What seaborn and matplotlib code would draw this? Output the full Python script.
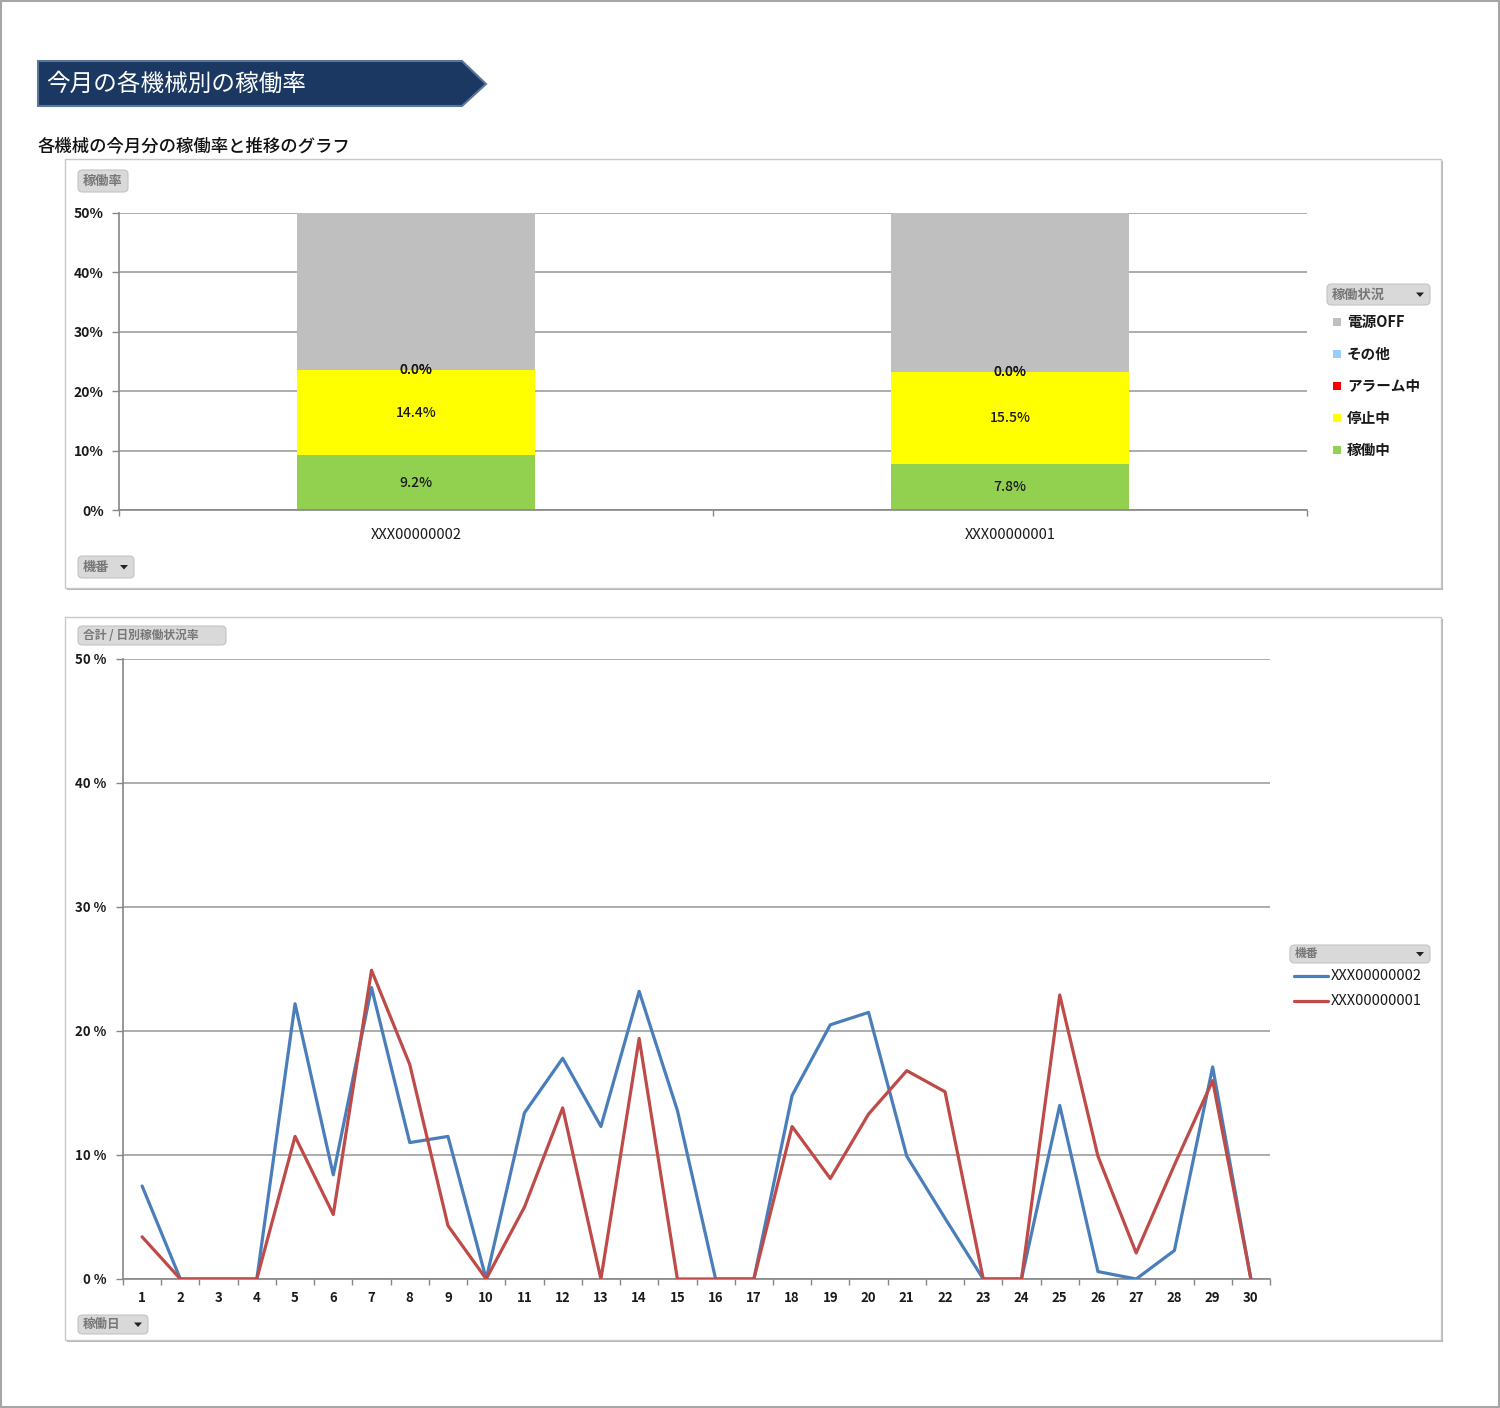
import numpy as np
import pandas as pd
import matplotlib
matplotlib.use("Agg")
import matplotlib.pyplot as plt
import seaborn as sns
from matplotlib.patches import Rectangle, Polygon, FancyBboxPatch
from matplotlib.lines import Line2D

# ---------------- data ----------------
machines = ["XXX00000002", "XXX00000001"]
status_labels = ["稼働中", "停止中", "アラーム中", "その他", "電源OFF"]
status_colors = ["#92d050", "#ffff00", "#ff0000", "#99ccff", "#bfbfbf"]
running = [9.2, 7.8]
stopped = [14.4, 15.5]
alarm = [0.0, 0.0]
other = [0.0, 0.0]
power_off = [76.4, 76.7]

days = list(range(1, 31))
rate_m2 = [7.5, 0, 0, 0, 22.2, 8.4, 23.5, 11.0, 11.5, 0,
           13.4, 17.8, 12.3, 23.2, 13.6, 0, 0, 14.8, 20.5, 21.5,
           9.9, 4.9, 0, 0, 14.0, 0.6, 0, 2.3, 17.1, 0]
rate_m1 = [3.4, 0, 0, 0, 11.5, 5.2, 24.9, 17.3, 4.3, 0,
           5.8, 13.8, 0, 19.4, 0, 0, 0, 12.3, 8.1, 13.3,
           16.8, 15.1, 0, 0, 22.9, 9.9, 2.1, 9.2, 16.0, 0]
line_colors = ["#4a7ebb", "#be4b48"]

# ---------------- style ----------------
sns.set_theme(style="white")
plt.rcParams["font.family"] = ["Noto Sans CJK JP", "DejaVu Sans"]

W, H = 1500, 1408
def fx(x): return x / W
def fy(y): return 1 - y / H

fig = plt.figure(figsize=(15, 14.08), dpi=100)
fig.patch.set_facecolor("white")
T = fig.transFigure

# outer border
fig.add_artist(Rectangle((0.0005, 0.0005), 0.999, 0.999, transform=T, fill=False,
                         edgecolor="#a6a6a6", lw=1.5))

# banner
fig.add_artist(Polygon([(fx(38), fy(61)), (fx(462), fy(61)), (fx(486), fy(84)),
                        (fx(462), fy(106)), (fx(38), fy(106))], closed=True,
                       transform=T, facecolor="#1b3862", edgecolor="#5d7598", lw=1.5))
fig.text(fx(46), fy(84), "今月の各機械別の稼働率", color="white", fontsize=17,
         va="center", ha="left")
fig.text(fx(38), fy(146), "各機械の今月分の稼働率と推移のグラフ", color="#111111",
         fontsize=12.5, va="center", ha="left", fontweight="medium")

def panel(x0, y0, x1, y1):
    fig.add_artist(Rectangle((fx(x0 + 2), fy(y1 + 2)), (x1 - x0) / W, (y1 - y0) / H,
                             transform=T, facecolor="#b5b5b5", edgecolor="none", zorder=0))
    fig.add_artist(Rectangle((fx(x0), fy(y1)), (x1 - x0) / W, (y1 - y0) / H,
                             transform=T, facecolor="white", edgecolor="#c8c8c8",
                             lw=1, zorder=0.5))

panel(65, 159, 1441, 588)
panel(65, 617, 1441, 1340)

def button(x0, y0, x1, y1, text, arrow=False, fs=9.5):
    fig.add_artist(FancyBboxPatch((fx(x0), fy(y1)), (x1 - x0) / W, (y1 - y0) / H,
                                  boxstyle="round,pad=0,rounding_size=0.003",
                                  transform=T, facecolor="#d9d9d9",
                                  edgecolor="#c4c4c4", lw=0.8, zorder=3))
    fig.text(fx(x0 + 5), fy((y0 + y1) / 2), text, color="#777777", fontsize=fs,
             va="center", ha="left", zorder=4, fontweight="bold")
    if arrow:
        ax_ = x1 - 10
        cy = (y0 + y1) / 2
        fig.add_artist(Polygon([(fx(ax_ - 4), fy(cy - 2)), (fx(ax_ + 4), fy(cy - 2)),
                                (fx(ax_), fy(cy + 2.5))], closed=True, transform=T,
                               facecolor="#222222", edgecolor="none", zorder=4))

button(78, 170, 128, 192, "稼働率")
button(78, 556, 134, 578, "機番", arrow=True)
button(1327, 284, 1430, 305, "稼働状況", arrow=True)
button(78, 626, 226, 645, "合計 / 日別稼働状況率", fs=8.5)
button(78, 1315, 148, 1334, "稼働日", arrow=True, fs=9)
button(1290, 945, 1430, 963, "機番", arrow=True, fs=8.5)

grid_c = "#a6a6a6"
spine_c = "#868686"
txt_c = "#1a1a1a"

# ---------------- stacked bar chart ----------------
ax1 = fig.add_axes([fx(119), fy(510), (1307 - 119) / W, (510 - 213) / H])
ax1.set_zorder(2)
ax1.set_facecolor("none")
layers = [running, stopped, alarm, other, power_off]
cum = np.cumsum(np.array(layers), axis=0)
for i in range(len(layers) - 1, -1, -1):
    d = pd.DataFrame({"machine": machines, "value": cum[i]})
    sns.barplot(data=d, x="machine", y="value", order=machines, color=status_colors[i],
                saturation=1, width=0.4, linewidth=0, ax=ax1, zorder=2)
ax1.set_ylim(0, 50)
ax1.set_xlim(-0.5, 1.5)
ax1.set_xlabel("")
ax1.set_ylabel("")
ax1.set_yticks([0, 10, 20, 30, 40, 50])
ax1.set_yticklabels([f"{v}%" for v in [0, 10, 20, 30, 40, 50]], fontsize=10,
                    color=txt_c, fontweight="bold")
ax1.tick_params(axis="y", direction="out", length=5, width=1, color=spine_c, pad=6, left=True)
ax1.tick_params(axis="x", which="major", length=0, pad=13, labelsize=10.5, labelcolor=txt_c)
ax1.set_xticks([-0.5, 0.5, 1.5], minor=True)
ax1.tick_params(axis="x", which="minor", direction="out", length=4, color=spine_c, bottom=True)
ax1.yaxis.grid(True, color=grid_c, lw=1.3, zorder=0)
ax1.set_axisbelow(True)
for s in ["top", "right"]:
    ax1.spines[s].set_visible(False)
for s in ["left", "bottom"]:
    ax1.spines[s].set_color(spine_c)
    ax1.spines[s].set_linewidth(1.2)

for j in range(len(machines)):
    for i in [0, 1, 2, 3]:
        bottom = cum[i][j] - layers[i][j]
        ax1.text(j, bottom + layers[i][j] / 2, f"{layers[i][j]:.1f}%", ha="center",
                 va="center", fontsize=10, color=txt_c, zorder=5, fontweight="medium")

# bar legend
leg_y = [322, 354, 386, 418, 450]
for lab, col, yy in zip(status_labels[::-1], status_colors[::-1], leg_y):
    fig.add_artist(Rectangle((fx(1333), fy(yy + 4)), 8 / W, 8 / H, transform=T,
                             facecolor=col, edgecolor="none"))
    fig.text(fx(1347), fy(yy), lab, fontsize=10.5, color=txt_c, va="center", ha="left",
             fontweight="bold")

# ---------------- line chart ----------------
ax2 = fig.add_axes([fx(123), fy(1279), (1270 - 123) / W, (1279 - 659) / H])
ax2.set_zorder(2)
ax2.set_facecolor("none")
df = pd.DataFrame({
    "day": days * 2,
    "rate": rate_m2 + rate_m1,
    "machine": [machines[0]] * len(days) + [machines[1]] * len(days),
})
sns.lineplot(data=df, x="day", y="rate", hue="machine", hue_order=machines,
             palette=line_colors, linewidth=2.3, legend=False, ax=ax2, zorder=3)
ax2.set_xlim(0.5, 30.5)
ax2.set_ylim(0, 50)
ax2.set_xlabel("")
ax2.set_ylabel("")
ax2.set_xticks(days)
ax2.set_xticklabels([str(d) for d in days], fontsize=9.5, color=txt_c, fontweight="bold")
ax2.tick_params(axis="x", which="major", length=0, pad=9)
ax2.set_xticks(np.arange(0.5, 31, 1), minor=True)
ax2.tick_params(axis="x", which="minor", direction="out", length=4, color=spine_c, bottom=True)
ax2.set_yticks([0, 10, 20, 30, 40, 50])
ax2.set_yticklabels([f"{v} %" for v in [0, 10, 20, 30, 40, 50]], fontsize=9.5,
                    color=txt_c, fontweight="bold")
ax2.tick_params(axis="y", direction="out", length=5, width=1, color=spine_c, pad=7, left=True)
ax2.yaxis.grid(True, color=grid_c, lw=1.3, zorder=0)
ax2.set_axisbelow(True)
for s in ["top", "right"]:
    ax2.spines[s].set_visible(False)
for s in ["left", "bottom"]:
    ax2.spines[s].set_color(spine_c)
    ax2.spines[s].set_linewidth(1.2)

# line legend
for lab, col, yy in zip(machines, line_colors, [976, 1001]):
    fig.add_artist(Line2D([fx(1294), fx(1328)], [fy(yy), fy(yy)], transform=T,
                          color=col, lw=2.3))
    fig.text(fx(1331), fy(yy), lab, fontsize=10.5, color=txt_c, va="center", ha="left")

fig.savefig("out.png", dpi=100, facecolor="white")
